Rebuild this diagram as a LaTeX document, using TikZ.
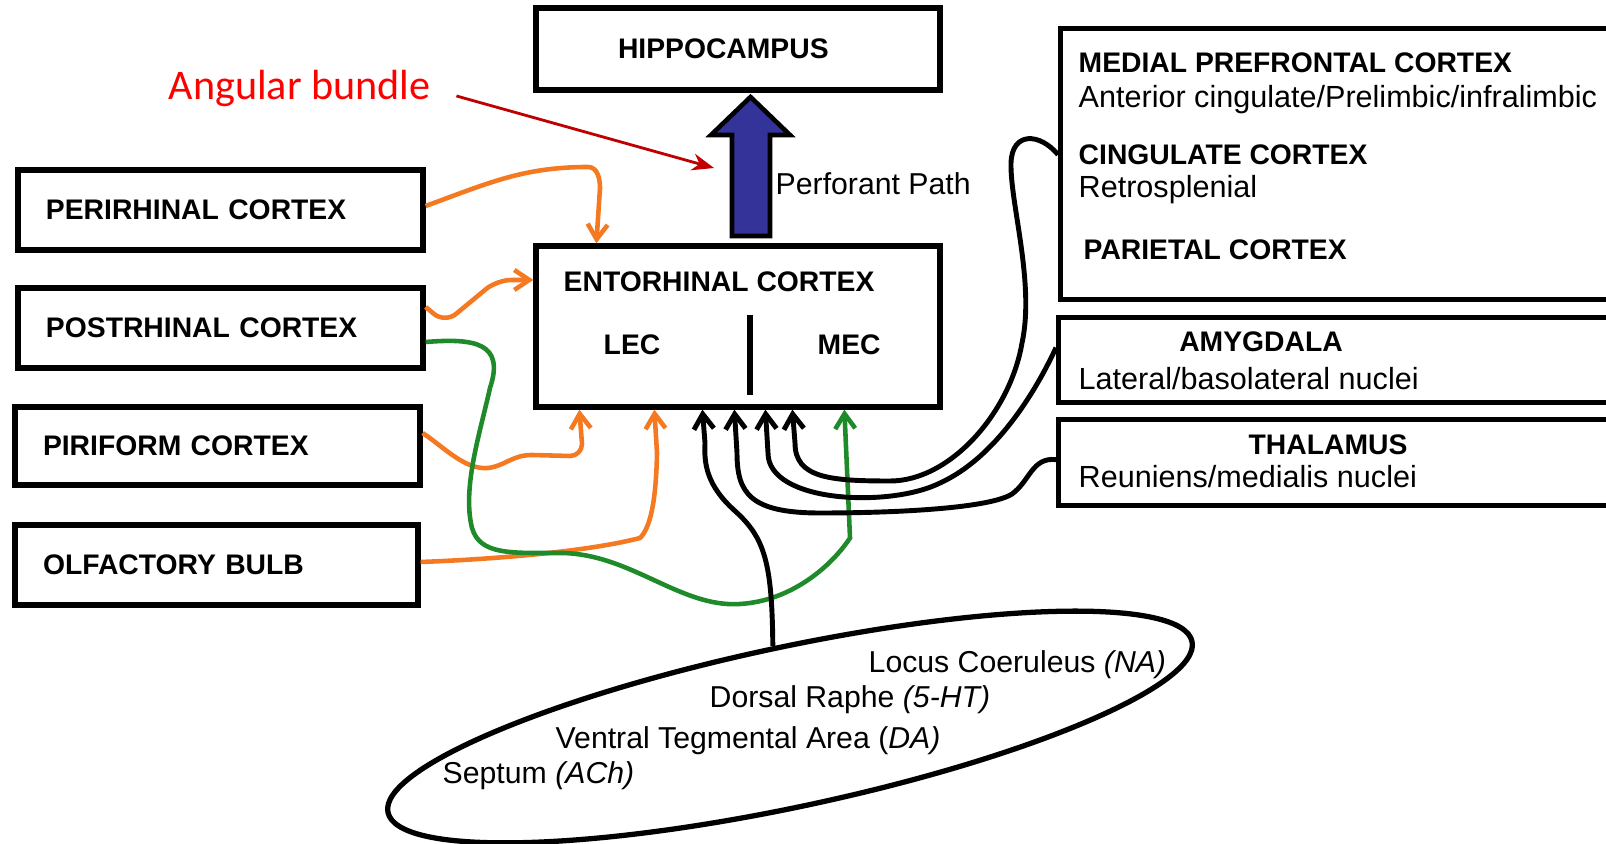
\documentclass[tikz,border=0pt]{standalone}
\usepackage{fontspec}
\setmainfont{Liberation Sans}
\newfontfamily\calfont{Carlito}
\usepackage{tikz}
\usetikzlibrary{arrows.meta,shapes.geometric}

\begin{document}
\begin{tikzpicture}[
  box/.style={draw, line width=1.5pt, inner sep=0pt},
  sidebox/.style={box, minimum width=4.05cm, minimum height=0.8cm, text width=3.49cm,
    inner xsep=0.28cm, align=left, font=\bfseries\fontsize{8.05}{9.6}\selectfont},
  titolo/.style={inner sep=0pt, anchor=base west, font=\bfseries\fontsize{8.05}{9.6}\selectfont},
  sotto/.style={inner sep=0pt, anchor=base west, font=\fontsize{8.7}{10}\selectfont},
  nucleo/.style={inner sep=0pt, anchor=base west, font=\fontsize{8.6}{10}\selectfont},
  freccia/.style={-{Straight Barb[length=1.5mm,width=2mm]}},
  nero/.style={freccia, draw=black, line width=1.4pt},
  arancio/.style={freccia, draw=colOra, line width=1.3pt},
  verde/.style={freccia, draw=colVer, line width=1.3pt},
]

% Colori
\definecolor{colOra}{HTML}{F47920}
\definecolor{colVer}{HTML}{1F8A2A}
\definecolor{colPP}{HTML}{333399}
\definecolor{colRed}{HTML}{FF0000}
\definecolor{colArr}{HTML}{C00000}

% Cornice (la parte destra dei riquadri esce dal foglio)
\useasboundingbox (0,0) rectangle (16.06,8.43);
\clip (0,0) rectangle (16.06,8.43);

% Riquadri a sinistra
\node[sidebox] (peri) at (2.205,6.33) {PERIRHINAL CORTEX};
\node[sidebox] (post) at (2.205,5.15) {POSTRHINAL CORTEX};
\node[sidebox, minimum height=0.78cm] (piri) at (2.175,3.97) {PIRIFORM CORTEX};
\node[sidebox, minimum width=4.03cm, text width=3.47cm] (olf) at (2.165,2.78) {OLFACTORY BULB};

% Ippocampo e corteccia entorinale
\node[box, minimum width=4.04cm, minimum height=0.82cm, text width=2.40cm, inner xsep=0.82cm,
  align=left, font=\bfseries\fontsize{8.05}{9.6}\selectfont] (hippo) at (7.38,7.94) {HIPPOCAMPUS};
\node[box, minimum width=4.04cm, minimum height=1.61cm] (ec) at (7.38,5.165) {};
\node[titolo] (ectit) at (5.63,5.51) {ENTORHINAL CORTEX};
\node[titolo] (lec) at (6.03,4.88) {LEC};
\node[titolo] (mec) at (8.17,4.88) {MEC};
\draw[line width=1.5pt] (7.50,5.28) -- (7.50,4.48);

% Via perforante
\draw[line width=1.3pt, fill=colPP] (7.32,6.07) -- (7.32,7.08) -- (7.11,7.08) -- (7.505,7.46)
  -- (7.90,7.08) -- (7.70,7.08) -- (7.70,6.07) -- cycle;
\node[nucleo] (pp) at (7.75,6.48) {Perforant Path};

% Fascio angolare
\node[inner sep=0pt, anchor=base west, text=colRed, font=\calfont\fontsize{12}{14}\selectfont]
  (angb) at (1.68,7.43) {Angular bundle};
\coordinate (fascio) at (7.14,6.75);
\draw[colArr, line width=0.8pt, -{Stealth[length=2.2mm,width=1.7mm]}, shorten <=0.26cm]
  (angb.east) -- (fascio);

% Riquadri a destra
\node[box, anchor=north west, minimum width=6cm, minimum height=2.71cm] (mpfc) at (10.58,8.17) {};
\node[box, anchor=north west, minimum width=6cm, minimum height=0.85cm] (amyg) at (10.56,5.28) {};
\node[box, anchor=north west, minimum width=6cm, minimum height=0.86cm] (thal) at (10.56,4.26) {};

\node[titolo] (mpfct) at (10.78,7.70) {MEDIAL PREFRONTAL CORTEX};
\node[sotto] (mpfcs) at (10.78,7.35) {Anterior cingulate/Prelimbic/infralimbic};
\node[titolo] (cingt) at (10.78,6.78) {CINGULATE CORTEX};
\node[sotto] (cings) at (10.78,6.45) {Retrosplenial};
\node[titolo] (part) at (10.83,5.83) {PARIETAL CORTEX};
\node[titolo, anchor=base] (amygt) at (12.61,4.91) {AMYGDALA};
\node[sotto] (amygs) at (10.78,4.53) {Lateral/basolateral nuclei};
\node[titolo, anchor=base] (thalt) at (13.28,3.88) {THALAMUS};
\node[sotto] (thals) at (10.78,3.55) {Reuniens/medialis nuclei};

% Nuclei del tronco
\node[draw, ellipse, line width=1.5pt, rotate=12, minimum width=8.22cm, minimum height=1.60cm,
  inner sep=0pt] (nuclei) at (7.90,1.16) {};
\node[nucleo] (lc) at (8.68,1.71) {Locus Coeruleus \textit{(NA)}};
\node[nucleo] (dr) at (7.09,1.36) {Dorsal Raphe \textit{(5-HT)}};
\node[nucleo] (vta) at (5.55,0.95) {Ventral Tegmental Area (\textit{DA)}};
\node[nucleo] (sep) at (4.42,0.60) {Septum \textit{(ACh)}};

% Afferenze corticali
\draw[arancio] ([yshift=0.04cm]peri.east) to[out=20,in=180] (5.88,6.76) to[out=0,in=90] (6.00,6.55)
  -- ([xshift=0.63cm]ec.north west);
\draw[arancio, rounded corners=4pt] ([yshift=0.21cm]post.east) -- (4.45,5.20) -- (4.97,5.63)
  -- (ec.west |- 4.97,5.63);
\draw[arancio] ([yshift=0.13cm]piri.east) .. controls (4.45,3.95) and (4.65,3.73) .. (4.88,3.75)
  .. controls (5.05,3.77) and (5.12,3.88) .. (5.32,3.88) -- (5.70,3.87) to[out=0,in=-90] (5.82,3.99)
  -- ([xshift=0.46cm]ec.south west);
\draw[arancio] ([yshift=0.03cm]olf.east) .. controls (5.0,2.84) and (5.9,2.92) .. (6.40,3.05)
  .. controls (6.50,3.15) and (6.56,3.40) .. (6.57,3.90) -- ([xshift=1.21cm]ec.south west);
\draw[verde] ([yshift=-0.14cm]post.east) .. controls (4.75,5.05) and (5.05,5.00) .. (4.90,4.55)
  .. controls (4.80,4.10) and (4.62,3.55) .. (4.72,3.15)
  .. controls (4.80,2.88) and (5.10,2.90) .. (5.60,2.90)
  .. controls (6.30,2.90) and (6.80,2.35) .. (7.40,2.39)
  .. controls (7.90,2.42) and (8.30,2.75) .. (8.50,3.05) -- ([xshift=3.11cm]ec.south west);

% Proiezioni sottocorticali
\draw[nero] (nuclei.north) .. controls (7.72,2.80) and (7.65,3.05) .. (7.35,3.32)
  .. controls (7.06,3.58) and (7.04,3.80) .. (7.05,4.00) -- ([xshift=1.69cm]ec.south west);
\draw[nero] ([yshift=0.03cm]thal.west) .. controls (10.32,3.86) and (10.30,3.62) .. (10.12,3.49)
  .. controls (9.90,3.35) and (9.00,3.30) .. (8.20,3.30)
  .. controls (7.50,3.30) and (7.37,3.50) .. (7.37,3.90) -- ([xshift=2.01cm]ec.south west);
\draw[nero] ([yshift=0.125cm]amyg.west) .. controls (10.35,4.50) and (9.95,3.85) .. (9.40,3.60)
  .. controls (8.90,3.35) and (7.68,3.40) .. (7.68,3.90) -- ([xshift=2.32cm]ec.south west);
\draw[nero] ([yshift=0.095cm]mpfc.west) .. controls (10.40,7.10) and (10.12,7.12) .. (10.11,6.80)
  .. controls (10.10,6.40) and (10.35,5.60) .. (10.22,5.00)
  .. controls (10.10,4.30) and (9.50,3.62) .. (8.90,3.62)
  .. controls (8.30,3.62) and (7.95,3.65) .. (7.95,4.00) -- ([xshift=2.59cm]ec.south west);

\end{tikzpicture}
\end{document}
